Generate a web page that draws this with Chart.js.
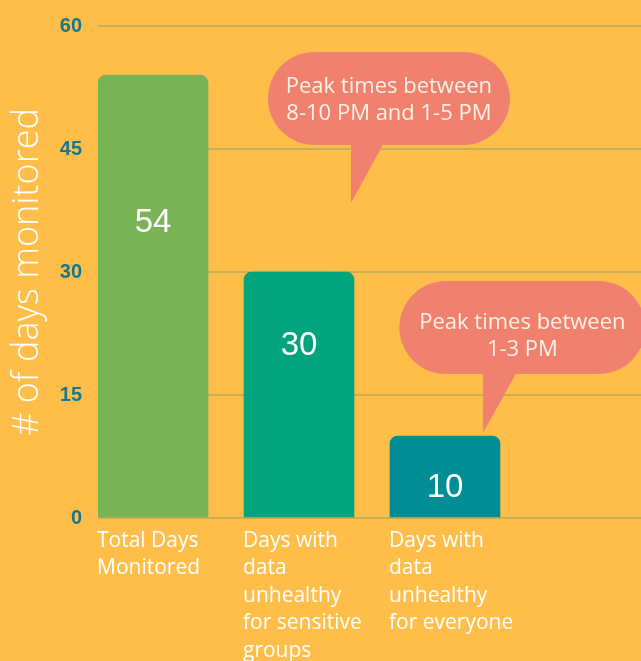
<!DOCTYPE html>
<html>
<head>
<meta charset="utf-8">
<script src="https://cdn.jsdelivr.net/npm/chart.js@4.4.0/dist/chart.umd.min.js"></script>
<style>
    html, body { margin: 0; padding: 0; background: #FFBE4A; overflow: hidden; }
    #wrap { width: 641px; height: 661px; }
</style>
</head>
<body>
<div id="wrap"><canvas id="myChart"></canvas></div>
<script>
// categories and values
const categories = [
    "Total Days Monitored",
    "Days with data unhealthy for sensitive groups",
    "Days with data unhealthy for everyone"
];
const labelLines = [
    ["Total Days", "Monitored"],
    ["Days with", "data", "unhealthy", "for sensitive", "groups"],
    ["Days with", "data", "unhealthy", "for everyone"]
];
const days = [54, 30, 10];
const barColors = ["#7AB356", "#03A37D", "#008D96"];
const yTicks = [0, 15, 30, 45, 60];

// speech bubble notes
const notes = [
    ["Peak times between", "8-10 PM and 1-5 PM"],
    ["Peak times between", "1-3 PM"]
];

const bubbleStyle = [
    { cx: 1.616, cy: 51.16, w: 242, h: 93, tipX: 1.356, tipY: 38.4, tail: 33, dy: -12 },
    { cx: 2.53, cy: 23.23, w: 246, h: 93, tipX: 2.26, tipY: 10.37, tail: 34, dy: -5 }
];
// where the value sits inside each bar (in y units)
const valueLabelY = [36.0, 21.0, 3.7];

const bubbles = {
    id: "bubbles",
    afterDatasetsDraw(chart) {
        const ctx = chart.ctx;
        const xs = chart.scales.x, ys = chart.scales.y;

        // numbers inside bars
        ctx.save();
        ctx.fillStyle = "#ffffff";
        ctx.font = "33px 'Liberation Sans', Arial, sans-serif";
        ctx.textAlign = "center";
        ctx.textBaseline = "middle";
        days.forEach((d, i) => {
            ctx.fillText(String(d), xs.getPixelForValue(i), ys.getPixelForValue(valueLabelY[i]));
        });
        ctx.restore();

        notes.forEach((lines, i) => {
            const b = bubbleStyle[i];
            const cx = xs.getPixelForValue(b.cx);
            const cy = ys.getPixelForValue(b.cy);
            const tx = xs.getPixelForValue(b.tipX);
            const ty = ys.getPixelForValue(b.tipY);
            const bottom = cy + b.h / 2;
            ctx.save();
            ctx.fillStyle = "#EF816E";
            ctx.beginPath();
            ctx.roundRect(cx - b.w / 2, cy - b.h / 2, b.w, b.h, b.h / 2);
            ctx.fill();
            ctx.beginPath();
            ctx.moveTo(tx, bottom - 2);
            ctx.lineTo(tx + b.tail, bottom - 2);
            ctx.lineTo(tx, ty);
            ctx.closePath();
            ctx.fill();
            ctx.fillStyle = "#FDF1E6";
            ctx.font = "22px 'Open Sans', sans-serif";
            ctx.textAlign = "center";
            ctx.textBaseline = "middle";
            lines.forEach((t, k) => {
                ctx.fillText(t, cx, cy + b.dy + k * 27);
            });
            ctx.restore();
        });
    }
};

const myChart = new Chart(document.getElementById("myChart"), {
    type: "bar",
    data: {
        labels: categories,
        datasets: [{
            label: "# of days monitored",
            data: days.map((v, i) => ({ x: i, y: v })),
            backgroundColor: barColors,
            borderRadius: { topLeft: 8, topRight: 8 },
            borderSkipped: "bottom",
            barThickness: 110
        }]
    },
    options: {
        responsive: true,
        maintainAspectRatio: false,
        animation: false,
        layout: { padding: { top: 26, right: 0, bottom: 0, left: 0 } },
        plugins: {
            legend: { display: false },
            tooltip: { enabled: false }
        },
        scales: {
            x: {
                type: "linear",
                offset: false,
                bounds: "data",
                min: -0.3767,
                max: 3.3425,
                grid: { display: false },
                border: { display: false },
                afterBuildTicks: (axis) => {
                    axis.ticks = categories.map((c, i) => ({ value: i }));
                },
                afterFit: (axis) => {
                    axis.height = 143;
                    axis.paddingLeft = 0;
                    axis.paddingRight = 0;
                },
                ticks: {
                    align: "start",
                    labelOffset: -56,
                    padding: 1,
                    maxRotation: 0,
                    autoSkip: false,
                    color: "#ffffff",
                    font: { family: "'Open Sans', sans-serif", size: 21, lineHeight: 1.31 },
                    callback: (v) => labelLines[v] || ""
                }
            },
            y: {
                min: 0,
                max: 60,
                afterBuildTicks: (axis) => {
                    axis.ticks = yTicks.map((v) => ({ value: v }));
                },
                afterFit: (axis) => {
                    axis.width = 98;
                    axis.paddingTop = 0;
                    axis.paddingBottom = 0;
                },
                grid: { color: "#C8AE55", lineWidth: 2, drawTicks: false },
                border: { display: false },
                ticks: {
                    padding: 16,
                    color: "#17788C",
                    font: { family: "'Liberation Sans', Arial, sans-serif", size: 20, weight: "bold" }
                },
                title: {
                    display: true,
                    text: "# of days monitored",
                    color: "#ffffff",
                    font: { family: "'Open Sans', sans-serif", size: 36, weight: 300 },
                    padding: { top: 6, bottom: 0 }
                }
            }
        }
    },
    plugins: [bubbles]
});
</script>
</body>
</html>
